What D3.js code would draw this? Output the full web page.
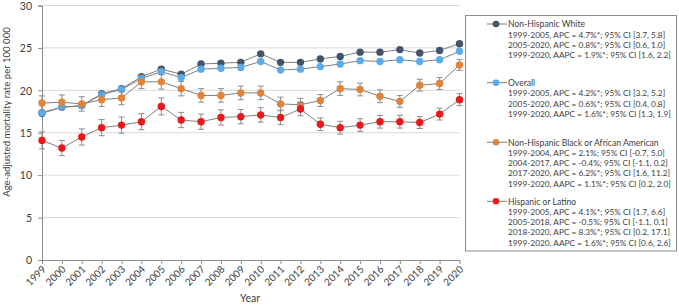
<!DOCTYPE html>
<html><head><meta charset="utf-8">
<script src="https://cdn.jsdelivr.net/npm/d3@7"></script>
<style>body{margin:0;background:#fff}svg{display:block}text{font-family:Lato,"Open Sans",sans-serif}</style>
</head><body><div id="chart"></div>
<script>
const years = ["1999","2000","2001","2002","2003","2004","2005","2006","2007","2008","2009","2010","2011","2012","2013","2014","2015","2016","2017","2018","2019","2020"];
const white = [17.3,18.0,18.2,19.6,20.2,21.6,22.5,21.9,23.1,23.2,23.3,24.3,23.3,23.3,23.7,24.0,24.5,24.5,24.8,24.4,24.7,25.5];
const overall = [17.4,18.0,18.2,19.5,20.1,21.4,22.2,21.5,22.5,22.6,22.7,23.4,22.4,22.5,22.8,23.1,23.5,23.4,23.6,23.4,23.6,24.6];
const black = [18.5,18.6,18.4,18.9,19.1,21.0,21.0,20.2,19.4,19.4,19.7,19.7,18.4,18.3,18.8,20.2,20.1,19.3,18.7,20.6,20.8,23.0];
const blackErr = [0.85,0.85,0.85,0.8,0.8,0.8,0.85,0.85,0.8,0.8,0.8,0.8,0.8,0.75,0.7,0.8,0.75,0.75,0.7,0.7,0.7,0.65];
const hispanic = [14.1,13.2,14.5,15.6,15.9,16.3,18.1,16.5,16.3,16.8,16.9,17.1,16.8,17.8,16.0,15.6,15.9,16.3,16.3,16.2,17.2,18.9];
const hispanicErr = [1.0,0.9,0.95,0.95,0.95,0.95,1.0,0.9,0.9,0.9,0.85,0.85,0.85,0.8,0.75,0.75,0.75,0.75,0.75,0.7,0.7,0.7];
const yTicks = [0,5,10,15,20,25,30];

const seriesNames = ["Non-Hispanic White","Overall","Non-Hispanic Black or African American","Hispanic or Latino"];
const seriesColors = ["#44546A","#5BACEB","#DF843A","#E8191B"];
const legendNotes = [
  ["1999-2005, APC = 4.7%*; 95% CI [3.7, 5.8]","2005-2020, APC = 0.8%*; 95% CI [0.6, 1.0]","1999-2020, AAPC = 1.9%*; 95% CI [1.6, 2.2]"],
  ["1999-2005, APC = 4.2%*; 95% CI [3.2, 5.2]","2005-2020, APC = 0.6%*; 95% CI [0.4, 0.8]","1999-2020, AAPC = 1.6%*; 95% CI [1.3, 1.9]"],
  ["1999-2004, APC = 2.1%; 95% CI [-0.7, 5.0]","2004-2017, APC = -0.4%; 95% CI [-1.1, 0.2]","2017-2020, APC = 6.2%*; 95% CI [1.6, 11.2]","1999-2020, AAPC = 1.1%*; 95% CI [0.2, 2.0]"],
  ["1999-2005, APC = 4.1%*; 95% CI [1.7, 6.6]","2005-2018, APC = -0.5%; 95% CI [-1.1, 0.1]","2018-2020, APC = 8.3%*; 95% CI [0.2, 17.1]","1999-2020, AAPC = 1.6%*; 95% CI [0.6, 2.6]"]
];
const seriesData = [white, overall, black, hispanic];
const seriesErr = [null, null, blackErr, hispanicErr];

const W = 679, H = 305;
const svg = d3.select("#chart").append("svg").attr("width", W).attr("height", H);
const x = d3.scalePoint().domain(years).range([42, 459.5]);
const y = d3.scaleLinear().domain([0, 30]).range([260, 5.5]);

// gridlines
svg.append("g").selectAll("line").data(yTicks.filter(d => d > 0)).join("line")
  .attr("x1", 42).attr("x2", 459.5).attr("y1", d => y(d)).attr("y2", d => y(d))
  .attr("stroke", "#D9D9D9").attr("stroke-width", 1);

// y axis
const yAxis = svg.append("g").attr("transform", "translate(42,0)")
  .call(d3.axisLeft(y).tickValues(yTicks).tickSize(4).tickPadding(6));
yAxis.select(".domain").attr("stroke", "#8C8C8C");
yAxis.selectAll(".tick line").attr("stroke", "#8C8C8C");
yAxis.selectAll(".tick text").attr("font-size", 10.5).attr("fill", "#404040").attr("font-family", "Lato, sans-serif").attr("dy", "0.36em");

// x axis
const xAxis = svg.append("g").attr("transform", "translate(0,260)")
  .call(d3.axisBottom(x).tickSize(4).tickSizeOuter(0));
xAxis.select(".domain").attr("stroke", "#8C8C8C");
xAxis.selectAll(".tick line").attr("stroke", "#8C8C8C");
xAxis.selectAll(".tick text").attr("font-size", 10).attr("fill", "#404040")
  .attr("font-family", "Lato, sans-serif")
  .attr("text-anchor", "end").attr("dy", 0).attr("y", 0)
  .attr("transform", "translate(4,10) rotate(-45)");

// axis titles
svg.append("text").attr("transform", "translate(10,112) rotate(-90)")
  .attr("text-anchor", "middle").attr("font-size", 9.6).attr("fill", "#404040")
  .text("Age-adjusted mortality rate per 100 000");
svg.append("text").attr("x", 250).attr("y", 302).attr("text-anchor", "middle")
  .attr("font-size", 10.5).attr("fill", "#404040").text("Year");

// series
const line = d3.line().x((d, i) => x(years[i])).y(d => y(d));
seriesData.forEach((vals, s) => {
  const g = svg.append("g");
  g.append("path").attr("d", line(vals)).attr("fill", "none").attr("stroke", "#7F7F7F").attr("stroke-width", 1);
  const err = seriesErr[s];
  if (err) {
    const eg = g.append("g").attr("stroke", "#8C8C8C").attr("stroke-width", 1);
    vals.forEach((v, i) => {
      const cx = x(years[i]);
      eg.append("line").attr("x1", cx).attr("x2", cx).attr("y1", y(v - err[i])).attr("y2", y(v + err[i]));
      eg.append("line").attr("x1", cx - 3).attr("x2", cx + 3).attr("y1", y(v - err[i])).attr("y2", y(v - err[i]));
      eg.append("line").attr("x1", cx - 3).attr("x2", cx + 3).attr("y1", y(v + err[i])).attr("y2", y(v + err[i]));
    });
  }
  g.selectAll("circle").data(vals).join("circle")
    .attr("cx", (d, i) => x(years[i])).attr("cy", d => y(d)).attr("r", 3.7)
    .attr("fill", seriesColors[s]);
});

// legend
svg.append("rect").attr("x", 465.5).attr("y", 15.5).attr("width", 211).attr("height", 235.5)
  .attr("fill", "#fff").attr("stroke", "#8C8C8C").attr("stroke-width", 1);
const titleY = [24, 82.7, 142.3, 201.3];
const lg = svg.append("g");
seriesNames.forEach((name, s) => {
  const ty = titleY[s];
  lg.append("line").attr("x1", 487).attr("x2", 507).attr("y1", ty).attr("y2", ty).attr("stroke", "#7F7F7F");
  lg.append("circle").attr("cx", 496).attr("cy", ty).attr("r", 3.3).attr("fill", seriesColors[s]);
  lg.append("text").attr("class", "lt").attr("x", 508).attr("y", ty + 3.2).attr("font-size", 8.6).attr("fill", "#404040").text(name);
  legendNotes[s].forEach((t, k) => {
    lg.append("text").attr("class", "ln").attr("x", 508).attr("y", ty + 3.2 + (k + 1) * 10.3)
      .attr("font-size", 8.3).attr("fill", "#404040").text(t);
  });
});
</script></body></html>
